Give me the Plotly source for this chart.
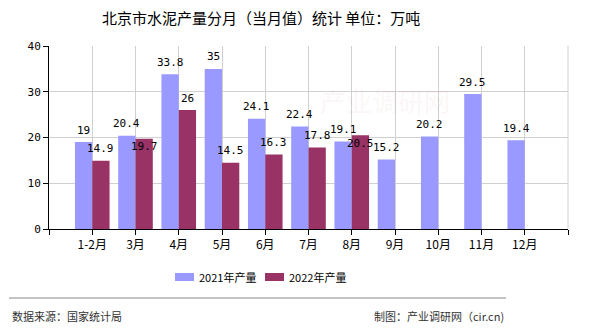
import plotly.graph_objects as go

categories = ["1-2月", "3月", "4月", "5月", "6月", "7月", "8月", "9月", "10月", "11月", "12月"]
values_2021 = [19, 20.4, 33.8, 35, 24.1, 22.4, 19.1, 15.2, 20.2, 29.5, 19.4]
values_2022 = [14.9, 19.7, 26, 14.5, 16.3, 17.8, 20.5, None, None, None, None]
series_names = ["2021年产量", "2022年产量"]
series_colors = ["#9999FF", "#993366"]
title_text = "北京市水泥产量分月（当月值）统计 单位：万吨"
source_text = "数据来源：国家统计局"
maker_text = "制图：产业调研网（cir.cn)"

FONT = "Noto Sans CJK SC, sans-serif"
NUMFONT = "DejaVu Sans Mono, Noto Sans CJK SC, monospace"
xs = list(range(len(categories)))

# plot-area geometry (pixels)
L, R, T, B = 49, 22, 46, 101
PW, PH = 590 - L - R, 330 - T - B

def px_x(p):
    return (p - L) / PW

def px_y(p):
    return (330 - B - p) / PH

def fmt(v):
    return str(int(v)) if float(v).is_integer() else str(v)

fig = go.Figure()
for name, vals, col in zip(series_names, [values_2021, values_2022], series_colors):
    fig.add_trace(go.Bar(x=xs, y=vals, name=name, marker_color=col,
                         marker_line_width=0, showlegend=False))

# value labels
BAR_OFF = 0.2
for i, v in enumerate(values_2021):
    fig.add_annotation(x=i - BAR_OFF, y=v, text=fmt(v), showarrow=False,
                       yshift=12, xanchor="center", yanchor="middle",
                       font=dict(family=NUMFONT, size=11, color="#000"))
for i, v in enumerate(values_2022):
    if v is None:
        continue
    shift = 12
    if abs(v - values_2021[i]) < 3:
        shift = -8
    fig.add_annotation(x=i + BAR_OFF, y=v, text=fmt(v), showarrow=False,
                       yshift=shift, xanchor="center", yanchor="middle",
                       font=dict(family=NUMFONT, size=11, color="#000"))

tickvals = list(range(-1, len(categories) + 1))
ticktext = [""] + categories + [""]

fig.update_layout(
    width=590, height=330,
    margin=dict(l=L, r=R, t=T, b=B),
    paper_bgcolor="white", plot_bgcolor="white",
    barmode="group", bargap=0.2, bargroupgap=0,
    font=dict(family=FONT, size=12, color="#000"),
    showlegend=False,
    xaxis=dict(range=[-1, len(categories)], tickmode="array", tickvals=tickvals,
               ticktext=ticktext, showgrid=True, gridcolor="#D0D0D0", gridwidth=1,
               showline=True, linecolor="#000", linewidth=1, ticks="outside",
               ticklen=5, tickcolor="#000", zeroline=False,
               tickfont=dict(family=FONT, size=12, color="#000")),
    yaxis=dict(range=[0, 40], dtick=10, showgrid=True, gridcolor="#D0D0D0",
               gridwidth=1, showline=True, linecolor="#000", linewidth=1,
               ticks="outside", ticklen=5, tickcolor="#000", zeroline=False,
               tickfont=dict(family=NUMFONT, size=11, color="#000")),
)

# right border
fig.add_shape(type="line", xref="paper", yref="paper", x0=1, x1=1, y0=0, y1=1,
              line=dict(color="#D0D0D0", width=1))

fig.add_annotation(text=title_text, xref="paper", yref="paper",
                   x=px_x(261), y=px_y(17), xanchor="center",
                   yanchor="middle", showarrow=False,
                   font=dict(family=FONT, size=15, color="#000"))

# watermark
fig.add_annotation(text="产业调研网", xref="paper", yref="paper",
                   x=px_x(385), y=px_y(100), xanchor="center",
                   yanchor="middle", showarrow=False,
                   font=dict(family=FONT, size=26, color="rgba(220,120,120,0.08)"))

# manual legend
legend_boxes = [175, 265]
for bx, name, col in zip(legend_boxes, series_names, series_colors):
    fig.add_shape(type="rect", xref="paper", yref="paper",
                  x0=px_x(bx), x1=px_x(bx + 19), y0=px_y(281), y1=px_y(273),
                  fillcolor=col, line_width=0)
    fig.add_annotation(text=name, xref="paper", yref="paper",
                       x=px_x(bx + 22), y=px_y(277), xanchor="left",
                       yanchor="middle", showarrow=False,
                       font=dict(family=FONT, size=11, color="#000"))

# footer line
fig.add_shape(type="line", xref="paper", yref="paper",
              x0=px_x(9), x1=px_x(506), y0=px_y(298), y1=px_y(298),
              line=dict(color="#888", width=1))
fig.add_annotation(text=source_text, xref="paper", yref="paper",
                   x=px_x(10), y=px_y(316), xanchor="left",
                   yanchor="middle", showarrow=False,
                   font=dict(family=FONT, size=11, color="#333"))
fig.add_annotation(text=maker_text, xref="paper", yref="paper",
                   x=px_x(506), y=px_y(316), xanchor="right",
                   yanchor="middle", showarrow=False,
                   font=dict(family=FONT, size=11, color="#333"))

fig.write_html("out.html")
